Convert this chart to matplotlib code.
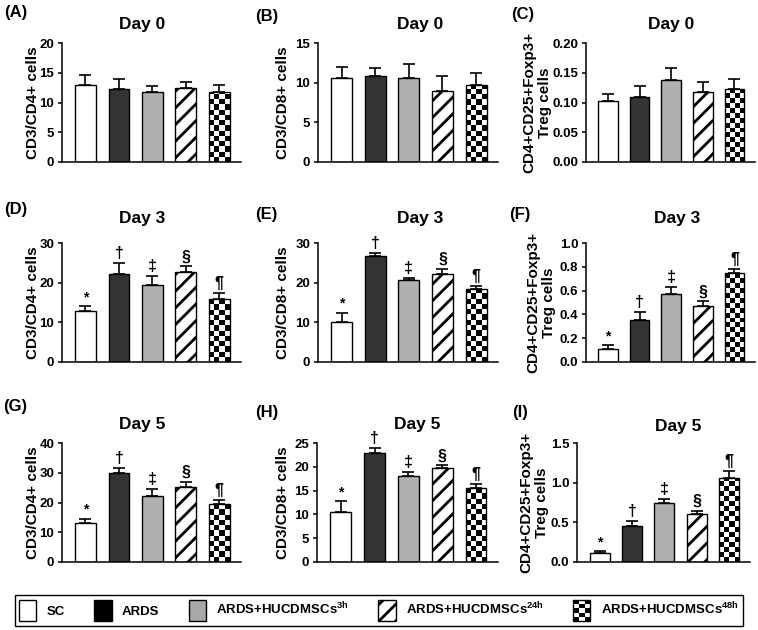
import numpy as np
import matplotlib
matplotlib.use("Agg")
import matplotlib.pyplot as plt
from matplotlib.patches import Patch, Rectangle
from matplotlib.legend_handler import HandlerBase
from matplotlib.ticker import FormatStrFormatter

plt.rcParams["font.family"] = ["Liberation Sans", "DejaVu Sans"]
plt.rcParams["font.weight"] = "bold"
plt.rcParams["mathtext.fontset"] = "custom"
plt.rcParams["mathtext.bf"] = "Liberation Sans:bold"
plt.rcParams["mathtext.rm"] = "Liberation Sans:bold"
plt.rcParams["mathtext.it"] = "Liberation Sans:bold"
plt.rcParams["mathtext.default"] = "bf"
plt.rcParams["hatch.linewidth"] = 2.0

# groups
groups = ["SC", "ARDS", "ARDS+HUCDMSCs$^{3h}$",
          "ARDS+HUCDMSCs$^{24h}$", "ARDS+HUCDMSCs$^{48h}$"]
marks = ["*", "\u2020", "\u2021", "\u00a7", "\u00b6"]

# Day 0
cd4_day0 = [12.9, 12.3, 11.7, 12.5, 11.8]
cd4_day0_err = [1.7, 1.7, 1.1, 0.9, 1.2]
cd8_day0 = [10.6, 10.8, 10.6, 9.0, 9.7]
cd8_day0_err = [1.4, 1.1, 1.8, 1.8, 1.5]
treg_day0 = [0.102, 0.110, 0.137, 0.117, 0.122]
treg_day0_err = [0.013, 0.018, 0.021, 0.018, 0.018]
# Day 3
cd4_day3 = [12.8, 22.3, 19.5, 22.6, 16.0]
cd4_day3_err = [1.3, 2.7, 2.1, 1.5, 1.5]
cd8_day3 = [10.2, 26.7, 20.6, 22.2, 18.5]
cd8_day3_err = [2.2, 0.8, 0.5, 1.2, 0.6]
treg_day3 = [0.109, 0.354, 0.574, 0.471, 0.744]
treg_day3_err = [0.030, 0.064, 0.053, 0.039, 0.036]
# Day 5
cd4_day5 = [13.1, 29.9, 22.2, 25.2, 19.4]
cd4_day5_err = [1.5, 1.6, 2.4, 1.8, 1.6]
cd8_day5 = [10.4, 23.0, 18.1, 19.7, 15.5]
cd8_day5_err = [2.4, 0.9, 0.8, 0.6, 0.9]
treg_day5 = [0.109, 0.450, 0.748, 0.600, 1.059]
treg_day5_err = [0.025, 0.067, 0.050, 0.047, 0.092]

W, H = 758, 630
fig = plt.figure(figsize=(W / 100, H / 100), dpi=100)


def fx(x):
    return x / W


def fy(y):
    return 1 - y / H


cd4_lab = "CD3/CD4+ cells"
cd8_lab = "CD3/CD8+ cells"
treg_lab = "CD4+CD25+Foxp3+\nTreg cells"

# letter, title, values, errors, ylabel, ymax, ystep, fmt, show marks,
# axes box px (left, right, top, bottom), title px, letter px, ylabel x px
panels = [
    ("(A)", "Day 0", cd4_day0, cd4_day0_err, cd4_lab, 20, 5, "%d", False,
     (62, 241, 43, 162), (142, 25), (4, 13), 33),
    ("(B)", "Day 0", cd8_day0, cd8_day0_err, cd8_lab, 15, 5, "%d", False,
     (318, 498, 43, 162), (420, 25), (255, 17), 283),
    ("(C)", "Day 0", treg_day0, treg_day0_err, treg_lab, 0.20, 0.05, "%.2f", False,
     (586, 755, 43, 162), (671, 25), (511, 15), 537),
    ("(D)", "Day 3", cd4_day3, cd4_day3_err, cd4_lab, 30, 10, "%d", True,
     (62, 241, 243, 362), (142, 218), (4, 210), 33),
    ("(E)", "Day 3", cd8_day3, cd8_day3_err, cd8_lab, 30, 10, "%d", True,
     (318, 498, 243, 362), (420, 218), (255, 214), 283),
    ("(F)", "Day 3", treg_day3, treg_day3_err, treg_lab, 1.0, 0.2, "%.1f", True,
     (586, 755, 243, 362), (677, 218), (509, 214), 541),
    ("(G)", "Day 5", cd4_day5, cd4_day5_err, cd4_lab, 40, 10, "%d", True,
     (62, 241, 443, 562), (142, 425), (3, 407), 33),
    ("(H)", "Day 5", cd8_day5, cd8_day5_err, cd8_lab, 25, 5, "%d", True,
     (317, 498, 443, 562), (417, 424), (255, 412), 283),
    ("(I)", "Day 5", treg_day5, treg_day5_err, treg_lab, 1.5, 0.5, "%.1f", True,
     (577, 750, 443, 562), (678, 426), (512, 413), 534),
]

colors = ["white", "#333333", "#b0b0b0", "white", "none"]
hatches = [None, None, None, "//", None]
x = np.arange(5)
xlim = (-0.7, 4.65)
bw = 0.62

for (letter, title, vals, errs, ylab, ymax, ystep, fmt, show_marks,
     box, tpos, lpos, labx) in panels:
    l, r, t, b = box
    ax = fig.add_axes([fx(l), fy(b), fx(r - l), (b - t) / H])
    bars = ax.bar(x, vals, width=bw, color=colors, edgecolor="black",
                  linewidth=1.0, zorder=2)
    for bar, h in zip(bars, hatches):
        if h:
            bar.set_hatch(h)
    ax.errorbar(x, vals, yerr=[np.zeros(5), errs], fmt="none", ecolor="black",
                elinewidth=1.2, capsize=4.5, capthick=1.2, zorder=3)

    # checkerboard fill for the last group
    cb = bars[4]
    w_px = cb.get_width() / (xlim[1] - xlim[0]) * (r - l)
    h_px = cb.get_height() / ymax * (b - t)
    nx = 4
    cell = w_px / nx
    ny = max(1, int(round(h_px / cell)))
    board = (np.add.outer(np.arange(ny), np.arange(nx)) % 2).astype(float)
    im = ax.imshow(board, cmap="gray_r", vmin=0, vmax=1, origin="lower",
                   extent=(cb.get_x(), cb.get_x() + cb.get_width(), 0,
                           ny * cell * ymax / (b - t)),
                   aspect="auto", interpolation="nearest", zorder=1)
    im.set_clip_path(cb)

    if show_marks:
        for xi, v, e, m in zip(x, vals, errs, marks):
            ax.annotate(m, (xi, v + e), xytext=(0, 1.5), textcoords="offset points",
                        ha="center", va="bottom", fontsize=11.5 if m != "*" else 10,
                        fontweight="bold")

    ax.set_xlim(*xlim)
    ax.set_ylim(0, ymax)
    ax.set_yticks(np.arange(0, ymax + ystep / 2, ystep))
    ax.yaxis.set_major_formatter(FormatStrFormatter(fmt))
    ax.set_xticks([])
    for s in ["top", "right"]:
        ax.spines[s].set_visible(False)
    for s in ["left", "bottom"]:
        ax.spines[s].set_linewidth(1.1)
    ax.tick_params(axis="y", length=3, width=1.1, pad=2.5, labelsize=9.5)
    for tl in ax.get_yticklabels():
        tl.set_fontweight("bold")
    ax.set_ylabel(ylab, fontsize=11, fontweight="bold", linespacing=1.1)
    ax.yaxis.label.set_va("center")
    ax.yaxis.set_label_coords((labx - l) / (r - l), 0.5)

    fig.text(fx(tpos[0]), fy(tpos[1]), title, ha="center", va="center",
             fontsize=12.5, fontweight="bold")
    fig.text(fx(lpos[0]), fy(lpos[1]), letter, ha="left", va="center",
             fontsize=12, fontweight="bold")


class CheckerHandler(HandlerBase):
    def create_artists(self, legend, orig_handle, xdescent, ydescent,
                       width, height, fontsize, trans):
        x0, y0 = -xdescent, -ydescent
        arts = [Rectangle((x0, y0), width, height, facecolor="white",
                          edgecolor="none", transform=trans)]
        nx, ny = 3, 5
        cw, ch = width / nx, height / ny
        for i in range(nx):
            for j in range(ny):
                if (i + j) % 2 == 0:
                    arts.append(Rectangle((x0 + i * cw, y0 + j * ch), cw, ch,
                                          facecolor="black", edgecolor="none",
                                          transform=trans))
        arts.append(Rectangle((x0, y0), width, height, facecolor="none",
                              edgecolor="black", lw=1.0, transform=trans))
        return arts


handles = [
    Patch(facecolor="white", edgecolor="black", lw=1.0),
    Patch(facecolor="black", edgecolor="black", lw=1.0),
    Patch(facecolor="#a8a8a8", edgecolor="black", lw=1.0),
    Patch(facecolor="white", edgecolor="black", lw=1.0, hatch="//"),
    Patch(facecolor="white", edgecolor="black", lw=1.0),
]
leg = fig.legend(handles, groups, loc="center", ncol=5,
                 bbox_to_anchor=(fx(8), fy(628), fx(742), 35 / H), mode="expand",
                 handler_map={handles[4]: CheckerHandler()},
                 prop={"weight": "bold", "size": 9.5},
                 handlelength=1.3, handleheight=2.1, handletextpad=0.8,
                 borderpad=0.35, fancybox=False, edgecolor="black",
                 framealpha=1)
leg.get_frame().set_linewidth(1.0)

fig.savefig("out.png", dpi=100)
